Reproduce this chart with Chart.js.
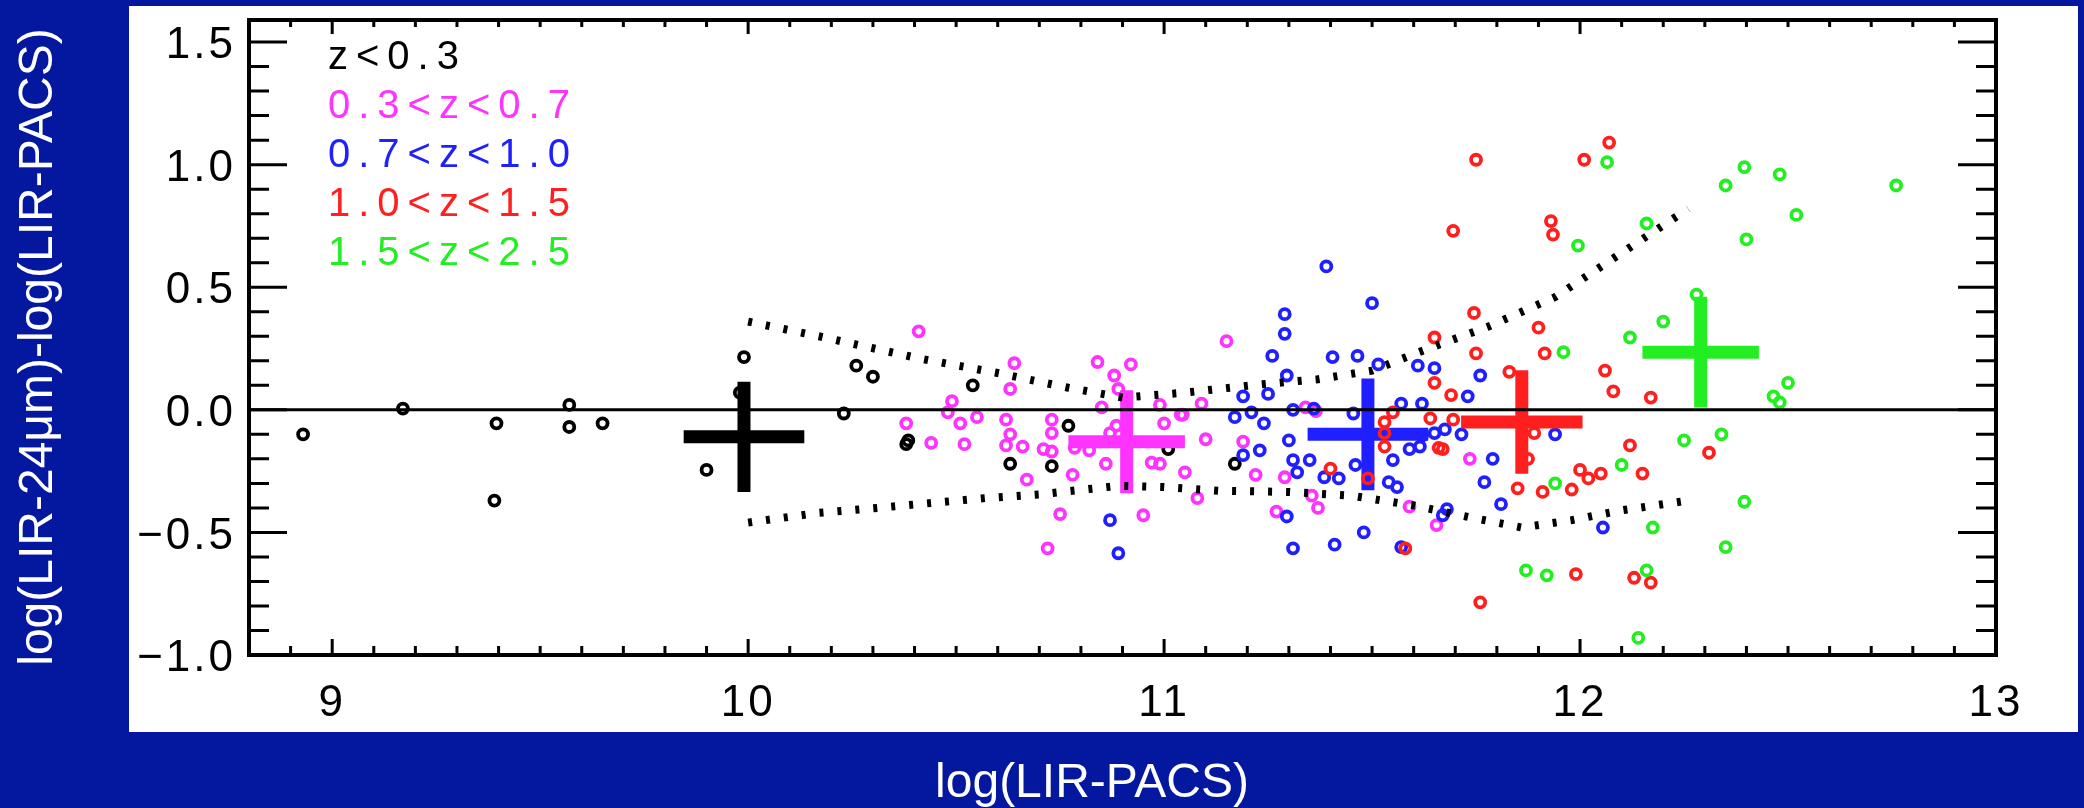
<!DOCTYPE html>
<html>
<head>
<meta charset="utf-8">
<script src="https://cdn.jsdelivr.net/npm/chart.js@4.4.1/dist/chart.umd.min.js"></script>
<style>
  html, body { margin: 0; padding: 0; background: #04189f; }
  canvas { display: block; }
</style>
</head>
<body>
<canvas id="lir-chart" width="2084" height="808"></canvas>
<script>
// axis ticks and labels
const xTicks = [9, 10, 11, 12, 13];
const yTicks = [-1.0, -0.5, 0.0, 0.5, 1.0, 1.5];
const xTitle = "log(LIR-PACS)";
const yTitle = "log(LIR-24\u03bcm)-log(LIR-PACS)";

// redshift bins
const zBins = ["z<0.3", "0.3<z<0.7", "0.7<z<1.0", "1.0<z<1.5", "1.5<z<2.5"];

// individual galaxies [log LIR-PACS, difference]
const pointsZ03 = [[8.93,-0.10],[9.17,0.005],[9.395,-0.055],[9.39,-0.37],[9.57,0.02],[9.57,-0.07],[9.65,-0.055],
  [9.99,0.215],[9.90,-0.245],[9.98,0.07],[10.23,-0.015],[10.26,0.18],[10.30,0.135],[10.38,-0.14],[10.385,-0.125],
  [10.54,0.10],[10.63,-0.22],[10.73,-0.23],[10.77,-0.065],[11.01,-0.16],[11.17,-0.22]];

const pointsZ07 = [[10.41,0.32],[10.64,0.19],[10.63,0.085],[10.49,0.035],[10.48,-0.01],[10.51,-0.055],[10.55,-0.03],
  [10.38,-0.055],[10.44,-0.135],[10.52,-0.14],[10.62,-0.04],[10.63,-0.10],[10.62,-0.145],[10.66,-0.15],[10.67,-0.285],
  [10.73,-0.04],[10.73,-0.095],[10.71,-0.16],[10.73,-0.17],[10.78,-0.265],[10.75,-0.425],[10.72,-0.565],[10.84,0.195],
  [10.92,0.185],[10.88,0.14],[10.89,0.085],[10.85,0.01],[10.885,-0.065],[10.87,-0.095],[10.785,-0.155],[10.82,-0.165],
  [10.86,-0.22],[10.95,-0.43],[11.05,-0.255],[11.08,-0.36],[11.10,-0.12],[10.99,-0.22],[10.97,-0.215],[11.04,-0.02],
  [11.0,-0.055],[10.99,0.02],[11.19,-0.13],[11.22,-0.265],[11.27,-0.415],[11.29,-0.275],[11.37,-0.40],[11.355,-0.35],
  [11.15,0.28],[11.09,0.025],[11.045,-0.02],[11.34,0.01],[11.365,-0.005],[11.59,-0.395],[11.655,-0.47],[11.735,-0.20]];

const pointsZ10 = [[10.87,-0.45],[10.89,-0.585],[11.39,0.585],[11.50,0.435],[11.29,0.39],[11.29,0.31],[11.26,0.22],
  [11.295,0.14],[11.405,0.215],[11.465,0.22],[11.515,0.185],[11.61,0.18],[11.65,0.17],[11.19,0.055],[11.25,0.065],
  [11.17,-0.03],[11.21,-0.01],[11.24,-0.055],[11.31,0.0],[11.36,0.005],[11.30,-0.125],[11.19,-0.185],[11.23,-0.165],
  [11.31,-0.205],[11.35,-0.205],[11.32,-0.255],[11.385,-0.275],[11.42,-0.28],[11.455,-0.015],[11.46,-0.225],
  [11.57,0.025],[11.62,0.025],[11.59,-0.16],[11.55,-0.205],[11.54,-0.295],[11.56,-0.315],[11.295,-0.435],
  [11.31,-0.565],[11.41,-0.55],[11.48,-0.50],[11.57,-0.56],[11.76,0.14],[11.73,0.055],[11.62,-0.105],[11.65,-0.095],
  [11.675,-0.08],[11.715,-0.10],[11.615,-0.15],[11.94,-0.10],[11.79,-0.20],[11.77,-0.295],[11.81,-0.385],
  [11.68,-0.405],[11.67,-0.43],[12.055,-0.48]];

const pointsZ15 = [[11.75,1.02],[12.01,1.02],[12.07,1.09],[11.695,0.73],[11.93,0.77],[11.935,0.715],[11.745,0.395],
  [11.90,0.335],[11.65,0.295],[11.75,0.23],[11.915,0.23],[11.83,0.155],[12.06,0.16],[12.08,0.075],[12.17,0.05],
  [11.65,0.11],[11.69,0.06],[11.695,-0.04],[11.64,-0.035],[11.66,-0.155],[11.67,-0.16],[11.89,-0.095],[11.875,-0.2],
  [12.12,-0.145],[12.15,-0.26],[12.31,-0.175],[11.85,-0.32],[11.91,-0.335],[11.98,-0.325],[12.0,-0.245],[12.02,-0.28],
  [12.05,-0.26],[11.99,-0.67],[12.13,-0.685],[12.17,-0.705],[11.76,-0.785],[11.55,-0.01],[11.53,-0.05],[11.53,-0.095],
  [11.53,-0.15],[11.49,-0.28],[11.40,-0.24],[11.58,-0.565]];

const pointsZ25 = [[12.065,1.01],[12.35,0.915],[12.16,0.76],[11.995,0.67],[11.96,0.235],[12.12,0.295],[12.20,0.36],
  [12.28,0.47],[12.25,-0.125],[12.34,-0.10],[12.10,-0.225],[11.94,-0.30],[12.175,-0.48],[12.35,-0.56],[11.87,-0.655],
  [11.92,-0.675],[12.16,-0.655],[12.14,-0.93],[12.395,0.99],[12.48,0.96],[12.76,0.915],[12.52,0.795],[12.40,0.695],
  [12.50,0.11],[12.465,0.055],[12.48,0.03],[12.395,-0.375]];

// bin means and their spreads
const meanX = [9.99, 10.91, 11.49, 11.86, 12.29];
const meanY = [-0.11, -0.13, -0.10, -0.05, 0.235];
const errX = [0.145, 0.14, 0.145, 0.146, 0.14];
const errY = [0.225, 0.21, 0.228, 0.211, 0.226];

// dispersion envelope
const upperX = [10.0, 10.17, 10.41, 10.6, 10.77, 10.9, 11.05, 11.21, 11.37, 11.5, 11.62, 11.78, 11.94, 12.1, 12.26];
const upperY = [0.36, 0.30, 0.21, 0.15, 0.09, 0.05, 0.07, 0.10, 0.125, 0.16, 0.24, 0.34, 0.46, 0.64, 0.82];
const lowerX = [10.0, 10.17, 10.31, 10.57, 10.7, 10.89, 11.0, 11.13, 11.3, 11.45, 11.6, 11.74, 11.86, 11.98, 12.1, 12.26];
const lowerY = [-0.46, -0.42, -0.40, -0.36, -0.345, -0.31, -0.315, -0.33, -0.335, -0.35, -0.39, -0.44, -0.48, -0.45, -0.41, -0.37];

const binPoints = [pointsZ03, pointsZ07, pointsZ10, pointsZ15, pointsZ25];
const binColors = ['#000000', '#ff33ff', '#1f1fff', '#ff1f1f', '#22ee22'];
const FONT = '"Liberation Sans", Arial, sans-serif';

const toXY = arr => arr.map(p => ({ x: p[0], y: p[1] }));
const zip = (xs, ys) => xs.map((x, i) => ({ x: x, y: ys[i] }));

const datasets = [];

// zero line and envelope on top
datasets.push({
  data: [{ x: 8.8, y: 0 }, { x: 13, y: 0 }],
  showLine: true, borderColor: '#000', borderWidth: 3, pointRadius: 0, order: 0
});
[zip(upperX, upperY), zip(lowerX, lowerY)].forEach(line => {
  datasets.push({
    data: line, showLine: true, borderColor: '#000', borderWidth: 8,
    borderDash: [4, 14], borderCapStyle: 'butt', pointRadius: 0, order: 1
  });
});

// each bin: open circles, then its mean cross drawn over them
binPoints.forEach((pts, i) => {
  const base = 2 + (binPoints.length - 1 - i) * 3;
  const col = binColors[i];
  const cross = { showLine: true, borderColor: col, borderWidth: 13, borderCapStyle: 'butt', pointRadius: 0, order: base };
  datasets.push(Object.assign({
    data: [{ x: meanX[i] - errX[i], y: meanY[i] }, { x: meanX[i] + errX[i], y: meanY[i] }]
  }, cross));
  datasets.push(Object.assign({
    data: [{ x: meanX[i], y: meanY[i] - errY[i] }, { x: meanX[i], y: meanY[i] + errY[i] }]
  }, cross));
  datasets.push({
    label: zBins[i],
    data: toXY(pts),
    pointStyle: 'circle',
    pointRadius: 5,
    pointBorderWidth: 3.8,
    pointBorderColor: col,
    pointBackgroundColor: 'rgba(0,0,0,0)',
    order: base + 2
  });
});

//frame, inward ticks, legend and titles
const framePlugin = {
  id: 'framePlugin',
  beforeDraw(chart) {
    const c = chart.ctx;
    c.save();
    c.fillStyle = '#04189f';
    c.fillRect(0, 0, chart.width, chart.height);
    c.fillStyle = '#ffffff';
    c.fillRect(129, 6, 1949, 726);
    c.restore();
    c.letterSpacing = '3px';
  },
  beforeDatasetsDraw(chart) {
    chart.ctx.letterSpacing = '0px';
  },
  afterDatasetsDraw(chart) {
    const c = chart.ctx;
    const a = chart.chartArea;
    const sx = chart.scales.x, sy = chart.scales.y;
    c.save();
    c.strokeStyle = '#000';
    c.lineWidth = 3;
    c.beginPath();
    for (let i = 88; i <= 130; i++) {
      const px = sx.getPixelForValue(i / 10);
      const major = i % 10 === 0;
      c.moveTo(px, a.bottom); c.lineTo(px, a.bottom - (major ? 16 : 9));
      c.moveTo(px, a.top); c.lineTo(px, a.top + (major ? 14 : 7));
    }
    for (let j = -10; j <= 15; j++) {
      const py = sy.getPixelForValue(j / 10);
      const len = j % 5 === 0 ? 38 : 20;
      c.moveTo(a.left, py); c.lineTo(a.left + len, py);
      c.moveTo(a.right, py); c.lineTo(a.right - len, py);
    }
    c.stroke();
    c.lineWidth = 4;
    c.strokeRect(a.left, a.top, a.right - a.left, a.bottom - a.top);

    c.font = '40px ' + FONT;
    c.letterSpacing = '8px';
    c.textAlign = 'left';
    c.textBaseline = 'alphabetic';
    zBins.forEach((t, i) => {
      c.fillStyle = binColors[i];
      c.fillText(t, 328, 69 + i * 49);
    });
    c.restore();
  },
  afterDraw(chart) {
    const c = chart.ctx;
    c.save();
    c.letterSpacing = '0px';
    c.fillStyle = '#ffffff';
    c.font = '48px ' + FONT;
    c.textAlign = 'center';
    c.textBaseline = 'alphabetic';
    c.fillText(xTitle, 1092, 797);
    c.translate(52, 347);
    c.rotate(-Math.PI / 2);
    c.fillText(yTitle, 0, 0);
    c.restore();
  }
};

const tickFont = { family: FONT, size: 44 };

new Chart(document.getElementById('lir-chart'), {
  type: 'scatter',
  data: { datasets: datasets },
  options: {
    responsive: false,
    devicePixelRatio: 1,
    animation: false,
    layout: { padding: { top: 20, right: 88, bottom: 0, left: 0 } },
    plugins: {
      legend: { display: false },
      tooltip: { enabled: false }
    },
    scales: {
      x: {
        type: 'linear',
        min: 8.8,
        max: 13,
        grid: { display: false, drawTicks: false },
        border: { display: false },
        ticks: {
          font: tickFont, color: '#000', padding: 22, maxRotation: 0, autoSkip: false,
          callback: v => String(v)
        },
        afterBuildTicks: s => { s.ticks = xTicks.map(v => ({ value: v })); },
        afterFit: s => { s.height = 153; s.paddingLeft = 0; s.paddingRight = 0; }
      },
      y: {
        type: 'linear',
        min: -1.0,
        max: 1.59,
        grid: { display: false, drawTicks: false },
        border: { display: false },
        ticks: {
          font: tickFont, color: '#000', padding: 13, labelOffset: 4, autoSkip: false,
          callback: v => (v < 0 ? '\u2212' : '') + Math.abs(v).toFixed(1)
        },
        afterBuildTicks: s => { s.ticks = yTicks.map(v => ({ value: v })); },
        afterFit: s => { s.width = 249; s.paddingTop = 0; s.paddingBottom = 0; }
      }
    }
  },
  plugins: [framePlugin]
});
</script>
</body>
</html>
